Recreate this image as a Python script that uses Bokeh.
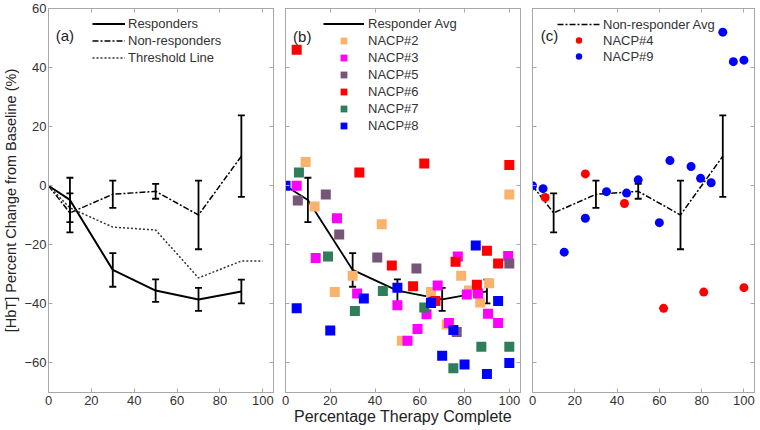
from bokeh.plotting import figure
from bokeh.layouts import row
from bokeh.models import (Range1d, LinearAxis, FixedTicker, Whisker, TeeHead,
                          ColumnDataSource, Legend, LegendItem, Label, CustomLabelingPolicy)
from bokeh.embed import file_html
from bokeh.resources import INLINE

FONT = "Liberation Sans"
FRAME = "#a8a8a8"
TXT = "#333333"

# ---------------- data ----------------
pct = [0, 10, 30, 50, 70, 90]
resp_avg = [0, -4.8, -28.5, -35.5, -38.5, -35.8]
resp_err = [0, 7.5, 5.7, 3.8, 3.9, 4.0]
nonresp_avg = [0, -9.2, -2.9, -1.9, -9.9, 10.0]
nonresp_err = [0, 6.6, 4.6, 2.5, 11.6, 13.8]
thr_x = [0, 10, 30, 50, 70, 90, 100]
thr_y = [0, -7.5, -14.0, -15.0, -31.2, -25.5, -25.5]

nacp2_x = [9, 13, 43, 30, 22, 52, 65, 72, 78.5, 82, 87, 91, 100]
nacp2_y = [8, -7, -13, -30.5, -36, -52.5, -36, -47, -30.5, -35.5, -39.5, -33, -3]
nacp3_x = [5, 23, 13.5, 32, 50, 54.5, 59, 63, 68, 73, 77, 81, 86, 90.5, 95, 99.5]
nacp3_y = [0, -11, -24.5, -36.5, -40.5, -52.5, -48.5, -43.5, -33.8, -46.5, -24, -36.8, -36.5, -43.3, -46.5, -23.8]
nacp5_x = [5.5, 18, 24, 41, 58.5, 76.5, 100]
nacp5_y = [-5, -3, -16.5, -24.3, -28, -49.5, -26.3]
nacp6_x = [5, 33, 62, 100, 47.5, 57, 67, 76, 85.5, 90, 95]
nacp6_y = [46, 4.5, 7.5, 7, -27, -34, -39, -25.7, -33.5, -22, -26.3]
nacp7_x = [6, 19, 31, 43.5, 62, 75, 87.5, 100]
nacp7_y = [4.5, -24, -42.4, -35.6, -41.2, -61.8, -54.5, -54.5]
nacp8_x = [0, 5, 20, 35, 50, 65, 70, 75, 80, 85, 90, 95, 100]
nacp8_y = [0, -41.5, -49, -38.2, -34.5, -39.7, -57.6, -48.8, -60.5, -20.2, -63.7, -39, -60]
nacp4_x = [6, 25, 43.5, 62, 81, 100]
nacp4_y = [-4, 4, -6, -41.5, -36, -34.5]
nacp9_x = [0, 5, 15, 25, 35, 44.5, 50, 60, 65, 75, 79.5, 84.5, 90, 95, 100]
nacp9_y = [0, -1, -22.5, -11, -2, -2.5, 2, -12.5, 8.5, 6.5, 2.5, 1, 52, 42, 42.5]

x_ticks = [0, 20, 40, 60, 80, 100]
y_ticks = [-60, -40, -20, 0, 20, 40, 60]

H = 429
TOP = 8
BOTTOM = 37
FH = H - TOP - BOTTOM


def add_axes(p, ylabels=False, ylabel=None, xlabel=None):
    for loc in ["left", "right", "above", "below"]:
        ticks = y_ticks if loc in ("left", "right") else x_ticks
        ax = LinearAxis(ticker=FixedTicker(ticks=ticks))
        ax.axis_line_color = FRAME
        ax.major_tick_line_color = FRAME
        ax.major_tick_in = 4
        ax.major_tick_out = 0
        ax.minor_tick_line_color = None
        show = (loc == "below") or (loc == "left" and ylabels)
        if show:
            ax.major_label_text_font = FONT
            ax.major_label_text_font_size = "13px"
            ax.major_label_text_color = TXT
            ax.major_label_standoff = 3 if loc == "below" else 2
        else:
            ax.major_label_text_font_size = "1px"
            ax.major_label_standoff = 0
            ax.major_label_policy = CustomLabelingPolicy(
                code="for (const i of indices) { indices.unset(i) }\nreturn indices")
        if loc == "left" and ylabel:
            ax.axis_label = ylabel
            ax.axis_label_text_font = FONT
            ax.axis_label_text_font_size = "14.5px"
            ax.axis_label_text_font_style = "normal"
            ax.axis_label_text_color = "#222222"
            ax.axis_label_standoff = 2
        if loc == "below" and xlabel:
            ax.axis_label = xlabel
            ax.axis_label_text_font = FONT
            ax.axis_label_text_font_size = "16px"
            ax.axis_label_text_font_style = "normal"
            ax.axis_label_text_color = "#222222"
            ax.axis_label_standoff = 0
        p.add_layout(ax, loc)


def make_fig(width, left, right):
    p = figure(width=width, height=H, x_range=Range1d(0, 105), y_range=Range1d(-70, 60),
               x_axis_location=None, y_axis_location=None, toolbar_location=None,
               output_backend="svg", min_border_left=left, min_border_right=right,
               min_border_top=TOP, min_border_bottom=BOTTOM, background_fill_color="white",
               border_fill_color="white")
    p.outline_line_color = FRAME
    p.grid.visible = False
    return p


def whiskers(p, xs, ys, es, width=1.8, level="overlay"):
    bx = [x for x, e in zip(xs, es) if e > 0]
    up = [y + e for y, e in zip(ys, es) if e > 0]
    lo = [y - e for y, e in zip(ys, es) if e > 0]
    src = ColumnDataSource(dict(base=bx, upper=up, lower=lo))
    w = Whisker(source=src, base="base", upper="upper", lower="lower",
                line_color="black", line_width=width,
                upper_head=TeeHead(size=7, line_width=width, line_color="black"),
                lower_head=TeeHead(size=7, line_width=width, line_color="black"))
    w.level = level
    p.add_layout(w)


def legend(p, items, x, y, glyph_w, row_h, standoff):
    lg = Legend(items=items, location=(x, y), glyph_width=glyph_w, glyph_height=row_h,
                label_height=row_h, label_standoff=standoff, spacing=0, padding=0, margin=0,
                border_line_color=None, background_fill_alpha=0,
                label_text_font=FONT, label_text_font_size="13px", label_text_color=TXT)
    p.add_layout(lg)


def panel_label(p, txt, x, y):
    p.add_layout(Label(x=x, y=y, text=txt, text_font=FONT, text_font_size="15px",
                       text_color="#222222", text_baseline="middle", text_align="left"))


# ---------------- panel (a) ----------------
pa = make_fig(279, 48, 6)
add_axes(pa, ylabels=True, ylabel="[HbT] Percent Change from Baseline (%)")
r1 = pa.line(pct, resp_avg, line_color="black", line_width=2)
r2 = pa.line(pct, nonresp_avg, line_color="black", line_width=1.5, line_dash="6 2 2 2")
r3 = pa.line(thr_x, thr_y, line_color="#333333", line_width=1.5, line_dash="2 2")
whiskers(pa, pct, resp_avg, resp_err)
whiskers(pa, pct, nonresp_avg, nonresp_err)
legend(pa, [LegendItem(label="Responders", renderers=[r1]),
            LegendItem(label="Non-responders", renderers=[r2]),
            LegendItem(label="Threshold Line", renderers=[r3])],
       44, FH - 7 - 3 * 17, 33, 17, 3)
panel_label(pa, "(a)", 3.4, 51)

# ---------------- panel (b) ----------------
pb = make_fig(247, 6, 6)
add_axes(pb, xlabel="Percentage Therapy Complete")
rb = pb.line(pct, resp_avg, line_color="black", line_width=1.8)
whiskers(pb, pct, resp_avg, resp_err, level="underlay")
sq = dict(marker="square", size=10, line_color=None)
s2 = pb.scatter(nacp2_x, nacp2_y, fill_color="#f9b36c", **sq)
s3 = pb.scatter(nacp3_x, nacp3_y, fill_color="#ff00ff", **sq)
s5 = pb.scatter(nacp5_x, nacp5_y, fill_color="#765579", **sq)
s6 = pb.scatter(nacp6_x, nacp6_y, fill_color="#ff0000", **sq)
s7 = pb.scatter(nacp7_x, nacp7_y, fill_color="#2e7d5b", **sq)
s8 = pb.scatter(nacp8_x, nacp8_y, fill_color="#0000ff", **sq)
legend(pb, [LegendItem(label="Responder Avg", renderers=[rb]),
            LegendItem(label="NACP#2", renderers=[s2]),
            LegendItem(label="NACP#3", renderers=[s3]),
            LegendItem(label="NACP#5", renderers=[s5]),
            LegendItem(label="NACP#6", renderers=[s6]),
            LegendItem(label="NACP#7", renderers=[s7]),
            LegendItem(label="NACP#8", renderers=[s8])],
       38, FH - 7 - 7 * 17, 41, 17, 4)
panel_label(pb, "(b)", 3.4, 50.5)

# ---------------- panel (c) ----------------
pc = make_fig(233, 6, 3)
add_axes(pc)
rc = pc.line(pct, nonresp_avg, line_color="black", line_width=1.5, line_dash="6 2 2 2")
whiskers(pc, pct, nonresp_avg, nonresp_err)
ci = dict(marker="circle", size=9, line_color=None)
c4 = pc.scatter(nacp4_x, nacp4_y, fill_color="#ff0000", **ci)
c9 = pc.scatter(nacp9_x, nacp9_y, fill_color="#0000ff", **ci)
legend(pc, [LegendItem(label="Non-responder Avg", renderers=[rc]),
            LegendItem(label="NACP#4", renderers=[c4]),
            LegendItem(label="NACP#9", renderers=[c9])],
       25, FH - 8 - 3 * 16, 43, 16, 3)
panel_label(pc, "(c)", 3.9, 51)

layout = row(pa, pb, pc)
open("out.html", "w").write(file_html(layout, INLINE))
